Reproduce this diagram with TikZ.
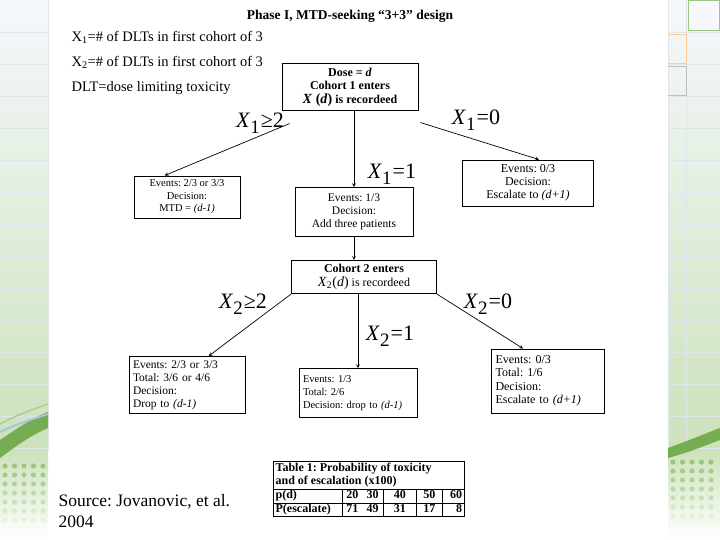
\documentclass[tikz,border=0pt]{standalone}
\usepackage{fontspec}
\setmainfont{Liberation Serif}
\usepackage{array}
\usetikzlibrary{calc,positioning}
\newcolumntype{C}[1]{>{\centering\arraybackslash}p{#1}}
\newcolumntype{R}[1]{>{\raggedleft\arraybackslash}p{#1}}
\newcommand{\xlab}[2]{\textit{X}\raisebox{-6pt}{\fontsize{19}{19}\selectfont #1}\hspace{1pt}#2}
\frenchspacing

\definecolor{bgtop}{RGB}{245,248,252}
\definecolor{bggreen}{RGB}{204,226,186}
\definecolor{swoosh}{RGB}{118,172,82}
\definecolor{swooshblue}{RGB}{170,196,222}
\definecolor{dotgreen}{RGB}{150,195,120}
\definecolor{gridgrey}{RGB}{222,230,236}

\tikzset{
  box/.style={draw, line width=0.8pt, inner sep=4pt, font=\fontsize{11.5}{13}\selectfont},
  cbox/.style={box, align=center},
  lbox/.style={box, align=left},
  lab/.style={font=\fontsize{22}{22}\selectfont, inner sep=0pt},
  arr/.style={->, >=stealth, line width=0.7pt}
}

\begin{document}
\begin{tikzpicture}[x=1pt, y=-1pt]
\useasboundingbox (0,0) rectangle (720,540);
\fill[white] (0,0) rectangle (720,540);

% slide background strips
\shade[top color=bgtop, bottom color=bggreen] (0,0) rectangle (48,450);
\shade[top color=bgtop, bottom color=bggreen] (668,0) rectangle (720,450);
\shade[top color=bggreen, bottom color=white] (0,450) rectangle (48,540);
\shade[top color=bggreen, bottom color=white] (668,450) rectangle (720,540);
\foreach \y in {32,64,...,448} {
  \draw[gridgrey] (0,\y) -- (48,\y);
  \draw[gridgrey] (668,\y) -- (720,\y);
}
\draw[gridgrey] (48,0) -- (48,450);
\draw[gridgrey] (668,0) -- (668,450);
\draw[gridgrey] (686,0) -- (686,450);
\fill[bgtop] (688,1) rectangle (719,31);
\draw[swoosh!70, line width=1pt] (688,1) rectangle (719,31);
\draw[orange!40, line width=0.8pt] (668,34) -- (686,34) -- (686,63) -- (668,63);
\draw[gray!50, line width=0.8pt] (668,66) -- (686,66) -- (686,95) -- (668,95);
\fill[swoosh] (0,440) .. controls (18,428) and (32,418) .. (48,412) -- (48,428) .. controls (30,436) and (16,446) .. (0,458) -- cycle;
\draw[swooshblue, line width=2pt] (0,432) .. controls (18,424) .. (48,414);
\draw[swoosh!60, line width=1.5pt] (0,424) .. controls (20,414) .. (48,404);
\fill[swoosh] (668,448) .. controls (690,440) and (704,434) .. (720,428) -- (720,440) .. controls (704,446) and (690,452) .. (668,458) -- cycle;
\foreach \i in {0,...,4}
  \foreach \j in {0,...,6} {
    \pgfmathsetmacro{\op}{0.9-\j*0.13}
    \fill[dotgreen, opacity=\op] (5+\i*9.5,466+\j*9) circle (2.6);
    \fill[dotgreen, opacity=\op] (673+\i*9.5,462+\j*9) circle (2.6);
  }

% texts
\node[font=\bfseries\fontsize{13.5}{15}\selectfont] (title) at (350,16) {Phase I, MTD-seeking ``3+3'' design};
\node[anchor=west, font=\fontsize{14.5}{16}\selectfont] (defa) at (68,37) {X\textsubscript{1}=\# of DLTs in first cohort of 3};
\node[anchor=west, font=\fontsize{14.5}{16}\selectfont] (defb) at (68,62) {X\textsubscript{2}=\# of DLTs in first cohort of 3};
\node[anchor=west, font=\fontsize{14.5}{16}\selectfont] (defc) at (68,88) {DLT=dose limiting toxicity};

% first cohort
\node[cbox, font=\bfseries\fontsize{12}{13.5}\selectfont, minimum width=136pt, minimum height=46pt] (dose) at (350,87) {Dose = \textit{d}\\Cohort 1 enters\\{\fontsize{14}{14}\selectfont\textit{X} (\textit{d})} is recordeed};
\node[cbox, font=\fontsize{10.5}{12.5}\selectfont, minimum width=106pt, minimum height=41pt] (mtd) at (187,197) {Events: 2/3 or 3/3\\Decision:\\MTD = \textit{(d-1)}};
\node[cbox, minimum width=118pt, minimum height=49pt] (add) at (354,212) {Events: 1/3\\Decision:\\Add three patients};
\node[cbox, font=\fontsize{12}{13}\selectfont, minimum width=131pt, minimum height=46pt] (esc1) at (528,183) {Events: 0/3\\Decision:\\Escalate to \textit{(d+1)}};

\node[lab] (lxa) at (260,123) {\xlab{1}{≥2}};
\node[lab] (lxb) at (392,174) {\xlab{1}{=1}};
\node[lab] (lxc) at (476,120) {\xlab{1}{=0}};

\draw[arr] ($(dose.south west)+(8,13)$) -- ($(mtd.north west)+(31,0)$);
\draw[arr] (dose.south -| add.north) -- (add.north);
\draw[arr] ($(dose.south east)+(2,12)$) -- ($(esc1.north west)+(77,0)$);

% second cohort
\node[cbox, font=\fontsize{12}{14}\selectfont, minimum width=145pt, minimum height=32pt] (coh) at (364,277) {\textbf{Cohort 2 enters}\\{\fontsize{14}{14}\selectfont\textit{X}\textsubscript{2}(\textit{d})} is recordeed};
\draw[arr] (add.south) -- (add.south |- coh.north);

\node[lbox, text width=108pt, minimum height=57pt] (drop) at (187,385) {Events: 2/3 or 3/3\\Total: 3/6 or 4/6\\Decision:\\Drop to \textit{(d-1)}};
\node[lbox, font=\fontsize{10.5}{13}\selectfont, text width=110pt, minimum height=49pt] (dropb) at (358,393) {Events: 1/3\\Total: 2/6\\Decision: drop to \textit{(d-1)}};
\node[lbox, font=\fontsize{12}{13.5}\selectfont, text width=105pt, minimum height=64pt] (esc2) at (548,381) {Events: 0/3\\Total: 1/6\\Decision:\\Escalate to \textit{(d+1)}};

\node[lab] (lya) at (243,304) {\xlab{2}{≥2}};
\node[lab] (lyb) at (390,336) {\xlab{2}{=1}};
\node[lab] (lyc) at (488,304) {\xlab{2}{=0}};

\draw[arr] (coh.south west) -- ($(drop.north west)+(80,0)$);
\draw[arr] (coh.south -| dropb.north) -- (dropb.north);
\draw[arr] (coh.south east) -- ($(esc2.north west)+(32,0)$);

% table and source
\node[anchor=north west, inner sep=0pt, font=\bfseries\fontsize{12}{13.5}\selectfont] (tab) at (273,461) {%
\setlength{\tabcolsep}{2pt}%
\begin{tabular}{|p{64pt}|C{16.5pt}C{16.5pt}|C{29pt}|C{21pt}|R{18pt}|}
\hline
\multicolumn{6}{|l|}{Table 1: Probability of toxicity}\\
\multicolumn{6}{|l|}{and of escalation (x100)}\\ \hline
p(d) & 20 & 30 & 40 & 50 & 60\\ \hline
P(escalate) & 71 & 49 & 31 & 17 & 8\\ \hline
\end{tabular}};
\node[anchor=north west, align=left, font=\fontsize{17.5}{21}\selectfont] (src) at (55,491) {Source: Jovanovic, et al.\\2004};
\end{tikzpicture}
\end{document}
